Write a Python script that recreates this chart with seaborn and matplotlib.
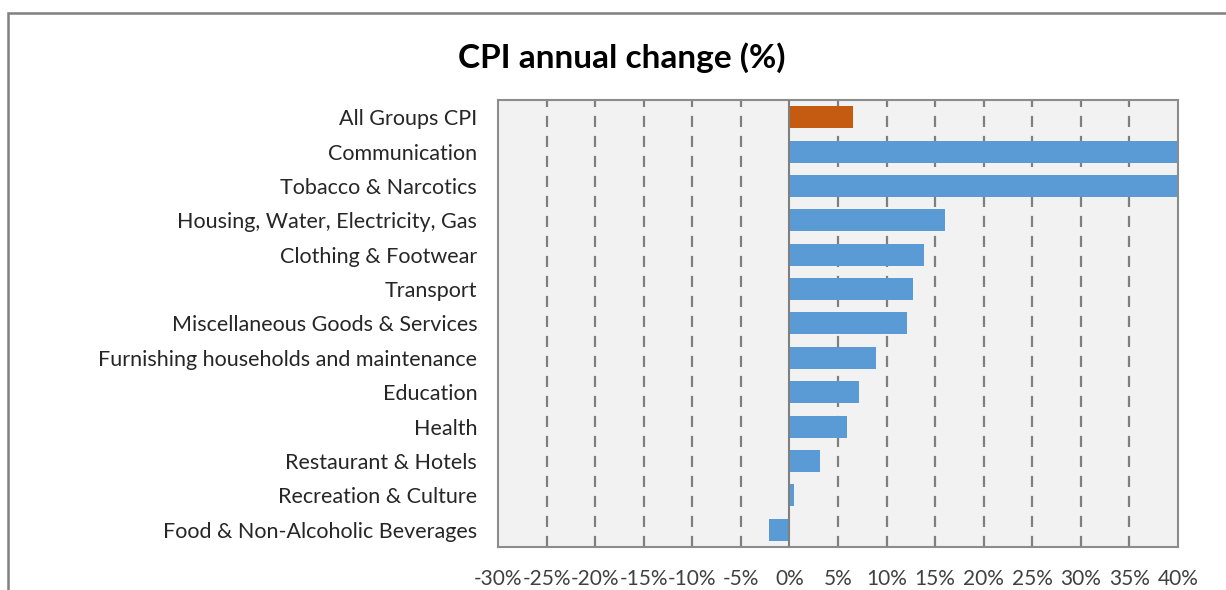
import matplotlib.pyplot as plt
import matplotlib.patches as mpatches
import pandas as pd
import seaborn as sns

# CPI annual change by group, top to bottom as drawn
categories = [
    "All Groups CPI",
    "Communication",
    "Tobacco & Narcotics",
    "Housing, Water, Electricity, Gas",
    "Clothing & Footwear",
    "Transport",
    "Miscellaneous Goods & Services",
    "Furnishing households and maintenance",
    "Education",
    "Health",
    "Restaurant & Hotels",
    "Recreation & Culture",
    "Food & Non-Alcoholic Beverages",
]
# Communication and Tobacco run past the 40% edge of the axis in the original
changes = [6.5, 45.0, 44.0, 16.0, 13.9, 12.7, 12.1, 8.9, 7.2, 5.9, 3.2, 0.5, -2.1]
groups = ["total"] + ["group"] * 12
tick_values = list(range(-30, 45, 5))

palette = {"total": "#C55A11", "group": "#5B9BD5"}

df = pd.DataFrame({"category": categories, "change": changes, "kind": groups})

sns.set_style("white")
plt.rcParams["font.family"] = ["Lato", "DejaVu Sans"]

fig = plt.figure(figsize=(12.26, 5.90), dpi=100)
ax = fig.add_axes([0.4062, 0.0729, 0.5546, 0.7576])
ax.set_facecolor("#F2F2F2")

sns.barplot(
    data=df,
    x="change",
    y="category",
    hue="kind",
    palette=palette,
    orient="h",
    width=0.64,
    dodge=False,
    legend=False,
    saturation=1,
    linewidth=0,
    ax=ax,
)

ax.set_xlim(-30, 40)
ax.set_ylim(12.5, -0.5)
ax.set_xticks(tick_values)
ax.set_xticklabels([f"{t}%" for t in tick_values])
for t in tick_values:
    if t == 0 or t in (-30, 40):
        continue
    ax.axvline(t, color="#7F7F7F", lw=1.6, ls=(0, (5, 4)), zorder=0.5)
ax.axvline(0, color="#7F7F7F", lw=1.5, zorder=3)

ax.set_xlabel("")
ax.set_ylabel("")
ax.tick_params(axis="x", length=0, pad=16, labelsize=15, labelcolor="#404040")
ax.tick_params(axis="y", length=0, pad=15, labelsize=15.5, labelcolor="#262626")
for spine in ax.spines.values():
    spine.set_visible(True)
    spine.set_color("#8C8C8C")
    spine.set_linewidth(1.5)

fig.text(0.507, 0.902, "CPI annual change (%)", ha="center", va="center",
         fontsize=24, fontweight="bold", color="#000000")

# outer chart frame, cropped at the right and bottom
frame = mpatches.Rectangle((8 / 1226, -0.1), 1.2, (577 / 590) + 0.1,
                           transform=fig.transFigure, fill=False,
                           edgecolor="#808080", lw=1.8)
fig.add_artist(frame)

fig.savefig("out.png", dpi=100)
